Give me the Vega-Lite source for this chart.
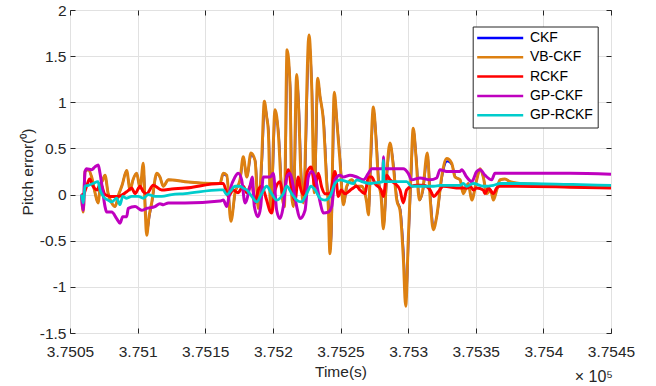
{
"$schema":"https://vega.github.io/schema/vega-lite/v6.json",
"width":541,"height":323,
"autosize":{"type":"none"},
"padding":{"left":70,"top":10,"right":45,"bottom":53},
"background":"white",
"data":{"values":[
{"s":"CKF","t":375058.5,"v":0.0},{"s":"CKF","t":375059.8,"v":-0.19},{"s":"CKF","t":375061.1,"v":0.25},{"s":"CKF","t":375063.5,"v":0.27},{"s":"CKF","t":375066.0,"v":0.19},{"s":"CKF","t":375068.5,"v":0.02},{"s":"CKF","t":375070.7,"v":-0.09},{"s":"CKF","t":375072.5,"v":0.10},{"s":"CKF","t":375074.0,"v":0.15},{"s":"CKF","t":375075.9,"v":0.21},{"s":"CKF","t":375078.1,"v":0.02},{"s":"CKF","t":375080.8,"v":-0.09},{"s":"CKF","t":375083.3,"v":-0.13},{"s":"CKF","t":375086.0,"v":0.0},{"s":"CKF","t":375088.5,"v":0.10},{"s":"CKF","t":375091.9,"v":0.26},{"s":"CKF","t":375094.4,"v":0.05},{"s":"CKF","t":375096.6,"v":0.16},{"s":"CKF","t":375099.3,"v":0.23},{"s":"CKF","t":375101.8,"v":0.07},{"s":"CKF","t":375104.4,"v":0.31},{"s":"CKF","t":375105.8,"v":-0.15},{"s":"CKF","t":375107.0,"v":-0.40},{"s":"CKF","t":375108.7,"v":-0.24},{"s":"CKF","t":375110.6,"v":-0.09},{"s":"CKF","t":375114.3,"v":0.22},{"s":"CKF","t":375116.5,"v":0.19},{"s":"CKF","t":375119.0,"v":0.09},{"s":"CKF","t":375122.7,"v":0.16},{"s":"CKF","t":375135.0,"v":0.14},{"s":"CKF","t":375160.9,"v":0.12},{"s":"CKF","t":375163.3,"v":0.22},{"s":"CKF","t":375165.9,"v":0.20},{"s":"CKF","t":375169.2,"v":-0.27},{"s":"CKF","t":375172.2,"v":0.02},{"s":"CKF","t":375175.9,"v":0.16},{"s":"CKF","t":375178.3,"v":0.39},{"s":"CKF","t":375180.9,"v":0.19},{"s":"CKF","t":375184.0,"v":0.43},{"s":"CKF","t":375187.1,"v":0.36},{"s":"CKF","t":375189.5,"v":-0.13},{"s":"CKF","t":375192.0,"v":0.36},{"s":"CKF","t":375194.0,"v":0.97},{"s":"CKF","t":375195.8,"v":0.82},{"s":"CKF","t":375197.0,"v":0.66},{"s":"CKF","t":375198.7,"v":-0.16},{"s":"CKF","t":375201.9,"v":0.89},{"s":"CKF","t":375204.4,"v":0.64},{"s":"CKF","t":375206.8,"v":0.02},{"s":"CKF","t":375208.8,"v":-0.12},{"s":"CKF","t":375210.8,"v":1.52},{"s":"CKF","t":375213.0,"v":1.14},{"s":"CKF","t":375214.2,"v":0.0},{"s":"CKF","t":375215.4,"v":-0.12},{"s":"CKF","t":375217.9,"v":1.26},{"s":"CKF","t":375219.2,"v":0.98},{"s":"CKF","t":375221.1,"v":0.19},{"s":"CKF","t":375222.8,"v":-0.08},{"s":"CKF","t":375227.0,"v":1.68},{"s":"CKF","t":375229.0,"v":1.13},{"s":"CKF","t":375230.9,"v":0.02},{"s":"CKF","t":375233.4,"v":1.22},{"s":"CKF","t":375235.3,"v":1.02},{"s":"CKF","t":375237.7,"v":0.78},{"s":"CKF","t":375240.1,"v":0.13},{"s":"CKF","t":375241.3,"v":-0.12},{"s":"CKF","t":375242.5,"v":-0.60},{"s":"CKF","t":375243.3,"v":-0.44},{"s":"CKF","t":375245.7,"v":1.07},{"s":"CKF","t":375247.5,"v":0.78},{"s":"CKF","t":375249.9,"v":0.36},{"s":"CKF","t":375252.4,"v":-0.10},{"s":"CKF","t":375254.9,"v":0.09},{"s":"CKF","t":375258.5,"v":0.16},{"s":"CKF","t":375262.0,"v":0.09},{"s":"CKF","t":375265.7,"v":0.09},{"s":"CKF","t":375269.6,"v":-0.09},{"s":"CKF","t":375270.9,"v":-0.21},{"s":"CKF","t":375272.6,"v":0.40},{"s":"CKF","t":375274.6,"v":0.92},{"s":"CKF","t":375276.6,"v":0.58},{"s":"CKF","t":375278.3,"v":0.16},{"s":"CKF","t":375280.3,"v":-0.02},{"s":"CKF","t":375282.0,"v":-0.35},{"s":"CKF","t":375284.5,"v":0.23},{"s":"CKF","t":375286.9,"v":0.54},{"s":"CKF","t":375289.4,"v":0.30},{"s":"CKF","t":375291.9,"v":-0.06},{"s":"CKF","t":375294.3,"v":-0.16},{"s":"CKF","t":375296.7,"v":-0.64},{"s":"CKF","t":375298.5,"v":-1.16},{"s":"CKF","t":375300.4,"v":-0.47},{"s":"CKF","t":375302.2,"v":0.16},{"s":"CKF","t":375304.1,"v":0.70},{"s":"CKF","t":375306.1,"v":0.40},{"s":"CKF","t":375308.6,"v":-0.06},{"s":"CKF","t":375311.1,"v":0.05},{"s":"CKF","t":375314.5,"v":0.43},{"s":"CKF","t":375316.5,"v":-0.02},{"s":"CKF","t":375319.0,"v":-0.34},{"s":"CKF","t":375321.4,"v":-0.22},{"s":"CKF","t":375325.1,"v":0.19},{"s":"CKF","t":375328.8,"v":0.36},{"s":"CKF","t":375332.5,"v":0.32},{"s":"CKF","t":375335.0,"v":0.19},{"s":"CKF","t":375338.4,"v":0.16},{"s":"CKF","t":375340.8,"v":0.02},{"s":"CKF","t":375344.5,"v":0.12},{"s":"CKF","t":375347.0,"v":-0.05},{"s":"CKF","t":375350.7,"v":0.16},{"s":"CKF","t":375353.2,"v":0.27},{"s":"CKF","t":375355.6,"v":0.19},{"s":"CKF","t":375358.1,"v":0.02},{"s":"CKF","t":375361.0,"v":0.05},{"s":"CKF","t":375363.0,"v":-0.05},{"s":"CKF","t":375365.5,"v":0.05},{"s":"CKF","t":375367.9,"v":0.16},{"s":"CKF","t":375371.6,"v":0.17},{"s":"CKF","t":375375.3,"v":0.14},{"s":"CKF","t":375382.7,"v":0.12},{"s":"CKF","t":375419.7,"v":0.10},{"s":"CKF","t":375450.0,"v":0.09},

{"s":"VB-CKF","t":375058.5,"v":0.0},{"s":"VB-CKF","t":375059.8,"v":-0.19},{"s":"VB-CKF","t":375061.1,"v":0.25},{"s":"VB-CKF","t":375063.5,"v":0.27},{"s":"VB-CKF","t":375066.0,"v":0.19},{"s":"VB-CKF","t":375068.5,"v":0.02},{"s":"VB-CKF","t":375070.7,"v":-0.09},{"s":"VB-CKF","t":375072.5,"v":0.10},{"s":"VB-CKF","t":375074.0,"v":0.15},{"s":"VB-CKF","t":375075.9,"v":0.21},{"s":"VB-CKF","t":375078.1,"v":0.02},{"s":"VB-CKF","t":375080.8,"v":-0.09},{"s":"VB-CKF","t":375083.3,"v":-0.13},{"s":"VB-CKF","t":375086.0,"v":0.0},{"s":"VB-CKF","t":375088.5,"v":0.10},{"s":"VB-CKF","t":375091.9,"v":0.26},{"s":"VB-CKF","t":375094.4,"v":0.05},{"s":"VB-CKF","t":375096.6,"v":0.16},{"s":"VB-CKF","t":375099.3,"v":0.23},{"s":"VB-CKF","t":375101.8,"v":0.07},{"s":"VB-CKF","t":375104.2,"v":0.34},{"s":"VB-CKF","t":375105.5,"v":-0.13},{"s":"VB-CKF","t":375106.7,"v":-0.44},{"s":"VB-CKF","t":375108.4,"v":-0.24},{"s":"VB-CKF","t":375110.4,"v":-0.09},{"s":"VB-CKF","t":375114.1,"v":0.23},{"s":"VB-CKF","t":375116.5,"v":0.19},{"s":"VB-CKF","t":375119.0,"v":0.09},{"s":"VB-CKF","t":375122.7,"v":0.16},{"s":"VB-CKF","t":375135.0,"v":0.14},{"s":"VB-CKF","t":375160.9,"v":0.12},{"s":"VB-CKF","t":375163.3,"v":0.23},{"s":"VB-CKF","t":375165.9,"v":0.21},{"s":"VB-CKF","t":375169.0,"v":-0.29},{"s":"VB-CKF","t":375172.0,"v":0.02},{"s":"VB-CKF","t":375175.7,"v":0.16},{"s":"VB-CKF","t":375178.1,"v":0.41},{"s":"VB-CKF","t":375180.7,"v":0.19},{"s":"VB-CKF","t":375183.8,"v":0.45},{"s":"VB-CKF","t":375186.8,"v":0.37},{"s":"VB-CKF","t":375189.2,"v":-0.15},{"s":"VB-CKF","t":375191.7,"v":0.37},{"s":"VB-CKF","t":375193.7,"v":1.01},{"s":"VB-CKF","t":375195.4,"v":0.84},{"s":"VB-CKF","t":375196.6,"v":0.70},{"s":"VB-CKF","t":375198.4,"v":-0.18},{"s":"VB-CKF","t":375201.6,"v":0.92},{"s":"VB-CKF","t":375204.0,"v":0.67},{"s":"VB-CKF","t":375206.5,"v":0.02},{"s":"VB-CKF","t":375208.5,"v":-0.13},{"s":"VB-CKF","t":375210.5,"v":1.57},{"s":"VB-CKF","t":375212.7,"v":1.17},{"s":"VB-CKF","t":375213.9,"v":0.0},{"s":"VB-CKF","t":375215.1,"v":-0.13},{"s":"VB-CKF","t":375217.6,"v":1.30},{"s":"VB-CKF","t":375218.8,"v":1.02},{"s":"VB-CKF","t":375220.8,"v":0.19},{"s":"VB-CKF","t":375222.5,"v":-0.09},{"s":"VB-CKF","t":375226.7,"v":1.73},{"s":"VB-CKF","t":375228.7,"v":1.17},{"s":"VB-CKF","t":375230.6,"v":0.02},{"s":"VB-CKF","t":375233.1,"v":1.26},{"s":"VB-CKF","t":375234.9,"v":1.06},{"s":"VB-CKF","t":375237.3,"v":0.81},{"s":"VB-CKF","t":375239.8,"v":0.13},{"s":"VB-CKF","t":375241.0,"v":-0.13},{"s":"VB-CKF","t":375242.2,"v":-0.64},{"s":"VB-CKF","t":375243.0,"v":-0.46},{"s":"VB-CKF","t":375245.4,"v":1.11},{"s":"VB-CKF","t":375247.2,"v":0.81},{"s":"VB-CKF","t":375249.6,"v":0.37},{"s":"VB-CKF","t":375252.1,"v":-0.11},{"s":"VB-CKF","t":375254.6,"v":0.09},{"s":"VB-CKF","t":375258.3,"v":0.16},{"s":"VB-CKF","t":375262.0,"v":0.09},{"s":"VB-CKF","t":375265.7,"v":0.09},{"s":"VB-CKF","t":375269.4,"v":-0.09},{"s":"VB-CKF","t":375270.6,"v":-0.22},{"s":"VB-CKF","t":375272.3,"v":0.41},{"s":"VB-CKF","t":375274.3,"v":0.95},{"s":"VB-CKF","t":375276.3,"v":0.59},{"s":"VB-CKF","t":375278.0,"v":0.16},{"s":"VB-CKF","t":375280.0,"v":-0.02},{"s":"VB-CKF","t":375281.7,"v":-0.37},{"s":"VB-CKF","t":375284.2,"v":0.23},{"s":"VB-CKF","t":375286.6,"v":0.56},{"s":"VB-CKF","t":375289.1,"v":0.30},{"s":"VB-CKF","t":375291.6,"v":-0.06},{"s":"VB-CKF","t":375294.0,"v":-0.17},{"s":"VB-CKF","t":375296.4,"v":-0.67},{"s":"VB-CKF","t":375298.2,"v":-1.21},{"s":"VB-CKF","t":375300.1,"v":-0.49},{"s":"VB-CKF","t":375301.9,"v":0.16},{"s":"VB-CKF","t":375303.8,"v":0.72},{"s":"VB-CKF","t":375305.8,"v":0.41},{"s":"VB-CKF","t":375308.3,"v":-0.06},{"s":"VB-CKF","t":375310.8,"v":0.05},{"s":"VB-CKF","t":375314.2,"v":0.45},{"s":"VB-CKF","t":375316.2,"v":-0.02},{"s":"VB-CKF","t":375318.6,"v":-0.38},{"s":"VB-CKF","t":375321.1,"v":-0.24},{"s":"VB-CKF","t":375324.8,"v":0.19},{"s":"VB-CKF","t":375328.5,"v":0.39},{"s":"VB-CKF","t":375332.2,"v":0.34},{"s":"VB-CKF","t":375334.7,"v":0.19},{"s":"VB-CKF","t":375338.4,"v":0.16},{"s":"VB-CKF","t":375340.8,"v":0.01},{"s":"VB-CKF","t":375344.5,"v":0.12},{"s":"VB-CKF","t":375347.0,"v":-0.06},{"s":"VB-CKF","t":375350.7,"v":0.16},{"s":"VB-CKF","t":375353.2,"v":0.28},{"s":"VB-CKF","t":375355.6,"v":0.19},{"s":"VB-CKF","t":375358.1,"v":0.01},{"s":"VB-CKF","t":375361.0,"v":0.05},{"s":"VB-CKF","t":375363.0,"v":-0.06},{"s":"VB-CKF","t":375365.5,"v":0.05},{"s":"VB-CKF","t":375367.9,"v":0.16},{"s":"VB-CKF","t":375371.6,"v":0.17},{"s":"VB-CKF","t":375375.3,"v":0.14},{"s":"VB-CKF","t":375382.7,"v":0.12},{"s":"VB-CKF","t":375419.7,"v":0.10},{"s":"VB-CKF","t":375450.0,"v":0.09},

{"s":"RCKF","t":375058.5,"v":0.0},{"s":"RCKF","t":375059.8,"v":0.0},{"s":"RCKF","t":375062.3,"v":0.09},{"s":"RCKF","t":375064.5,"v":0.17},{"s":"RCKF","t":375067.0,"v":0.09},{"s":"RCKF","t":375070.0,"v":0.05},{"s":"RCKF","t":375072.5,"v":0.12},{"s":"RCKF","t":375075.9,"v":0.0},{"s":"RCKF","t":375080.0,"v":-0.02},{"s":"RCKF","t":375085.5,"v":-0.02},{"s":"RCKF","t":375091.9,"v":0.03},{"s":"RCKF","t":375095.6,"v":0.07},{"s":"RCKF","t":375098.1,"v":0.01},{"s":"RCKF","t":375101.8,"v":0.09},{"s":"RCKF","t":375104.2,"v":0.03},{"s":"RCKF","t":375106.7,"v":0.01},{"s":"RCKF","t":375111.6,"v":0.10},{"s":"RCKF","t":375117.8,"v":0.05},{"s":"RCKF","t":375125.2,"v":0.06},{"s":"RCKF","t":375135.0,"v":0.07},{"s":"RCKF","t":375160.9,"v":0.12},{"s":"RCKF","t":375163.3,"v":0.12},{"s":"RCKF","t":375167.0,"v":-0.02},{"s":"RCKF","t":375170.7,"v":0.05},{"s":"RCKF","t":375174.2,"v":0.02},{"s":"RCKF","t":375178.1,"v":0.09},{"s":"RCKF","t":375180.7,"v":0.02},{"s":"RCKF","t":375184.4,"v":0.12},{"s":"RCKF","t":375186.8,"v":-0.09},{"s":"RCKF","t":375189.2,"v":0.05},{"s":"RCKF","t":375191.7,"v":0.09},{"s":"RCKF","t":375195.4,"v":-0.06},{"s":"RCKF","t":375197.9,"v":-0.18},{"s":"RCKF","t":375199.1,"v":-0.20},{"s":"RCKF","t":375201.6,"v":0.05},{"s":"RCKF","t":375205.3,"v":0.14},{"s":"RCKF","t":375207.7,"v":-0.02},{"s":"RCKF","t":375211.4,"v":0.27},{"s":"RCKF","t":375213.9,"v":0.05},{"s":"RCKF","t":375216.4,"v":-0.06},{"s":"RCKF","t":375218.8,"v":0.19},{"s":"RCKF","t":375220.1,"v":0.09},{"s":"RCKF","t":375222.5,"v":0.0},{"s":"RCKF","t":375225.5,"v":0.25},{"s":"RCKF","t":375228.2,"v":0.30},{"s":"RCKF","t":375231.2,"v":0.09},{"s":"RCKF","t":375233.6,"v":0.23},{"s":"RCKF","t":375236.1,"v":0.08},{"s":"RCKF","t":375238.5,"v":0.01},{"s":"RCKF","t":375242.2,"v":0.01},{"s":"RCKF","t":375245.9,"v":0.25},{"s":"RCKF","t":375248.4,"v":-0.02},{"s":"RCKF","t":375250.5,"v":0.05},{"s":"RCKF","t":375253.3,"v":0.01},{"s":"RCKF","t":375258.3,"v":0.06},{"s":"RCKF","t":375262.0,"v":0.09},{"s":"RCKF","t":375264.4,"v":0.05},{"s":"RCKF","t":375268.1,"v":0.01},{"s":"RCKF","t":375270.6,"v":0.19},{"s":"RCKF","t":375273.1,"v":0.19},{"s":"RCKF","t":375275.5,"v":0.12},{"s":"RCKF","t":375280.0,"v":0.05},{"s":"RCKF","t":375281.7,"v":-0.02},{"s":"RCKF","t":375284.2,"v":0.21},{"s":"RCKF","t":375286.6,"v":0.16},{"s":"RCKF","t":375290.3,"v":0.12},{"s":"RCKF","t":375294.0,"v":0.05},{"s":"RCKF","t":375296.4,"v":-0.09},{"s":"RCKF","t":375298.9,"v":0.05},{"s":"RCKF","t":375302.6,"v":0.09},{"s":"RCKF","t":375306.4,"v":0.10},{"s":"RCKF","t":375311.2,"v":0.10},{"s":"RCKF","t":375316.2,"v":0.05},{"s":"RCKF","t":375319.1,"v":-0.02},{"s":"RCKF","t":375322.3,"v":0.03},{"s":"RCKF","t":375326.0,"v":0.09},{"s":"RCKF","t":375338.4,"v":0.07},{"s":"RCKF","t":375343.3,"v":0.07},{"s":"RCKF","t":375346.0,"v":0.09},{"s":"RCKF","t":375348.2,"v":0.05},{"s":"RCKF","t":375350.7,"v":0.07},{"s":"RCKF","t":375355.6,"v":0.05},{"s":"RCKF","t":375356.8,"v":0.01},{"s":"RCKF","t":375359.3,"v":0.07},{"s":"RCKF","t":375363.0,"v":0.01},{"s":"RCKF","t":375365.5,"v":0.07},{"s":"RCKF","t":375367.9,"v":0.09},{"s":"RCKF","t":375380.3,"v":0.09},{"s":"RCKF","t":375419.7,"v":0.08},{"s":"RCKF","t":375450.0,"v":0.07},

{"s":"GP-CKF","t":375058.5,"v":0.0},{"s":"GP-CKF","t":375059.8,"v":-0.17},{"s":"GP-CKF","t":375061.1,"v":0.25},{"s":"GP-CKF","t":375062.3,"v":0.28},{"s":"GP-CKF","t":375066.0,"v":0.27},{"s":"GP-CKF","t":375068.5,"v":0.30},{"s":"GP-CKF","t":375070.9,"v":0.32},{"s":"GP-CKF","t":375072.2,"v":0.23},{"s":"GP-CKF","t":375073.4,"v":0.12},{"s":"GP-CKF","t":375075.9,"v":-0.13},{"s":"GP-CKF","t":375077.1,"v":-0.19},{"s":"GP-CKF","t":375080.8,"v":-0.19},{"s":"GP-CKF","t":375084.5,"v":-0.26},{"s":"GP-CKF","t":375087.0,"v":-0.31},{"s":"GP-CKF","t":375089.0,"v":-0.24},{"s":"GP-CKF","t":375091.9,"v":-0.24},{"s":"GP-CKF","t":375093.1,"v":-0.15},{"s":"GP-CKF","t":375098.1,"v":-0.13},{"s":"GP-CKF","t":375103.0,"v":-0.17},{"s":"GP-CKF","t":375106.7,"v":-0.15},{"s":"GP-CKF","t":375112.8,"v":-0.13},{"s":"GP-CKF","t":375116.5,"v":-0.10},{"s":"GP-CKF","t":375119.0,"v":-0.11},{"s":"GP-CKF","t":375122.7,"v":-0.09},{"s":"GP-CKF","t":375135.0,"v":-0.09},{"s":"GP-CKF","t":375160.9,"v":-0.07},{"s":"GP-CKF","t":375163.3,"v":-0.06},{"s":"GP-CKF","t":375165.9,"v":-0.13},{"s":"GP-CKF","t":375168.3,"v":0.05},{"s":"GP-CKF","t":375172.0,"v":0.19},{"s":"GP-CKF","t":375174.4,"v":0.23},{"s":"GP-CKF","t":375176.9,"v":0.16},{"s":"GP-CKF","t":375179.4,"v":-0.09},{"s":"GP-CKF","t":375183.1,"v":0.09},{"s":"GP-CKF","t":375184.8,"v":0.19},{"s":"GP-CKF","t":375186.3,"v":-0.13},{"s":"GP-CKF","t":375189.0,"v":-0.24},{"s":"GP-CKF","t":375191.0,"v":-0.13},{"s":"GP-CKF","t":375192.9,"v":0.19},{"s":"GP-CKF","t":375195.4,"v":0.19},{"s":"GP-CKF","t":375197.9,"v":0.19},{"s":"GP-CKF","t":375200.3,"v":0.23},{"s":"GP-CKF","t":375202.8,"v":-0.17},{"s":"GP-CKF","t":375205.3,"v":-0.26},{"s":"GP-CKF","t":375207.7,"v":-0.13},{"s":"GP-CKF","t":375210.3,"v":0.19},{"s":"GP-CKF","t":375212.7,"v":0.23},{"s":"GP-CKF","t":375215.1,"v":0.09},{"s":"GP-CKF","t":375217.6,"v":-0.13},{"s":"GP-CKF","t":375220.1,"v":-0.26},{"s":"GP-CKF","t":375223.8,"v":-0.17},{"s":"GP-CKF","t":375226.2,"v":0.19},{"s":"GP-CKF","t":375228.7,"v":0.25},{"s":"GP-CKF","t":375231.7,"v":0.16},{"s":"GP-CKF","t":375234.9,"v":-0.08},{"s":"GP-CKF","t":375237.3,"v":-0.20},{"s":"GP-CKF","t":375241.0,"v":-0.19},{"s":"GP-CKF","t":375243.5,"v":-0.13},{"s":"GP-CKF","t":375245.9,"v":0.16},{"s":"GP-CKF","t":375249.6,"v":0.21},{"s":"GP-CKF","t":375252.1,"v":0.19},{"s":"GP-CKF","t":375257.0,"v":0.21},{"s":"GP-CKF","t":375262.0,"v":0.19},{"s":"GP-CKF","t":375266.9,"v":0.16},{"s":"GP-CKF","t":375270.6,"v":0.23},{"s":"GP-CKF","t":375273.1,"v":0.28},{"s":"GP-CKF","t":375277.0,"v":0.28},{"s":"GP-CKF","t":375281.4,"v":0.28},{"s":"GP-CKF","t":375281.8,"v":0.41},{"s":"GP-CKF","t":375282.2,"v":0.28},{"s":"GP-CKF","t":375286.6,"v":0.28},{"s":"GP-CKF","t":375296.4,"v":0.28},{"s":"GP-CKF","t":375300.1,"v":0.23},{"s":"GP-CKF","t":375302.6,"v":0.16},{"s":"GP-CKF","t":375308.8,"v":0.18},{"s":"GP-CKF","t":375316.2,"v":0.16},{"s":"GP-CKF","t":375321.1,"v":0.18},{"s":"GP-CKF","t":375323.6,"v":0.27},{"s":"GP-CKF","t":375328.5,"v":0.25},{"s":"GP-CKF","t":375333.5,"v":0.25},{"s":"GP-CKF","t":375338.4,"v":0.25},{"s":"GP-CKF","t":375339.6,"v":0.27},{"s":"GP-CKF","t":375343.3,"v":0.19},{"s":"GP-CKF","t":375347.0,"v":0.14},{"s":"GP-CKF","t":375350.7,"v":0.25},{"s":"GP-CKF","t":375353.2,"v":0.27},{"s":"GP-CKF","t":375356.8,"v":0.21},{"s":"GP-CKF","t":375361.8,"v":0.16},{"s":"GP-CKF","t":375364.2,"v":0.23},{"s":"GP-CKF","t":375367.9,"v":0.23},{"s":"GP-CKF","t":375419.7,"v":0.23},{"s":"GP-CKF","t":375450.0,"v":0.22},

{"s":"GP-RCKF","t":375058.5,"v":0.0},{"s":"GP-RCKF","t":375059.8,"v":-0.09},{"s":"GP-RCKF","t":375061.1,"v":0.09},{"s":"GP-RCKF","t":375063.5,"v":0.10},{"s":"GP-RCKF","t":375067.0,"v":0.12},{"s":"GP-RCKF","t":375070.7,"v":0.14},{"s":"GP-RCKF","t":375072.2,"v":0.05},{"s":"GP-RCKF","t":375074.6,"v":-0.02},{"s":"GP-RCKF","t":375078.1,"v":-0.06},{"s":"GP-RCKF","t":375080.8,"v":-0.08},{"s":"GP-RCKF","t":375084.5,"v":-0.04},{"s":"GP-RCKF","t":375087.0,"v":-0.11},{"s":"GP-RCKF","t":375089.0,"v":-0.02},{"s":"GP-RCKF","t":375091.9,"v":-0.04},{"s":"GP-RCKF","t":375095.6,"v":-0.02},{"s":"GP-RCKF","t":375100.5,"v":-0.02},{"s":"GP-RCKF","t":375104.2,"v":-0.04},{"s":"GP-RCKF","t":375107.9,"v":0.0},{"s":"GP-RCKF","t":375112.8,"v":-0.02},{"s":"GP-RCKF","t":375117.8,"v":-0.02},{"s":"GP-RCKF","t":375125.2,"v":0.0},{"s":"GP-RCKF","t":375135.0,"v":0.01},{"s":"GP-RCKF","t":375160.9,"v":0.05},{"s":"GP-RCKF","t":375163.3,"v":0.05},{"s":"GP-RCKF","t":375165.9,"v":0.0},{"s":"GP-RCKF","t":375168.3,"v":0.03},{"s":"GP-RCKF","t":375172.0,"v":0.09},{"s":"GP-RCKF","t":375175.7,"v":0.09},{"s":"GP-RCKF","t":375178.1,"v":0.07},{"s":"GP-RCKF","t":375180.7,"v":0.05},{"s":"GP-RCKF","t":375184.4,"v":-0.02},{"s":"GP-RCKF","t":375188.0,"v":-0.08},{"s":"GP-RCKF","t":375191.7,"v":0.01},{"s":"GP-RCKF","t":375195.4,"v":0.09},{"s":"GP-RCKF","t":375199.1,"v":0.01},{"s":"GP-RCKF","t":375202.8,"v":-0.06},{"s":"GP-RCKF","t":375207.7,"v":0.01},{"s":"GP-RCKF","t":375210.3,"v":0.09},{"s":"GP-RCKF","t":375213.9,"v":0.01},{"s":"GP-RCKF","t":375217.6,"v":-0.06},{"s":"GP-RCKF","t":375221.0,"v":-0.08},{"s":"GP-RCKF","t":375225.0,"v":0.01},{"s":"GP-RCKF","t":375228.2,"v":0.09},{"s":"GP-RCKF","t":375231.2,"v":0.05},{"s":"GP-RCKF","t":375234.9,"v":-0.04},{"s":"GP-RCKF","t":375238.5,"v":-0.06},{"s":"GP-RCKF","t":375242.2,"v":-0.02},{"s":"GP-RCKF","t":375245.9,"v":0.12},{"s":"GP-RCKF","t":375249.6,"v":0.16},{"s":"GP-RCKF","t":375254.6,"v":0.14},{"s":"GP-RCKF","t":375259.5,"v":0.12},{"s":"GP-RCKF","t":375262.0,"v":0.16},{"s":"GP-RCKF","t":375265.7,"v":0.14},{"s":"GP-RCKF","t":375271.8,"v":0.12},{"s":"GP-RCKF","t":375276.8,"v":0.13},{"s":"GP-RCKF","t":375281.2,"v":0.14},{"s":"GP-RCKF","t":375281.7,"v":0.37},{"s":"GP-RCKF","t":375282.2,"v":0.14},{"s":"GP-RCKF","t":375289.1,"v":0.14},{"s":"GP-RCKF","t":375294.0,"v":0.14},{"s":"GP-RCKF","t":375298.9,"v":0.14},{"s":"GP-RCKF","t":375302.6,"v":0.09},{"s":"GP-RCKF","t":375311.2,"v":0.09},{"s":"GP-RCKF","t":375319.1,"v":0.09},{"s":"GP-RCKF","t":375323.6,"v":0.10},{"s":"GP-RCKF","t":375338.4,"v":0.10},{"s":"GP-RCKF","t":375340.8,"v":0.12},{"s":"GP-RCKF","t":375343.3,"v":0.09},{"s":"GP-RCKF","t":375348.2,"v":0.12},{"s":"GP-RCKF","t":375355.6,"v":0.09},{"s":"GP-RCKF","t":375363.0,"v":0.10},{"s":"GP-RCKF","t":375367.9,"v":0.12},{"s":"GP-RCKF","t":375380.3,"v":0.12},{"s":"GP-RCKF","t":375419.7,"v":0.11},{"s":"GP-RCKF","t":375450.0,"v":0.10}
]},
"resolve":{"axis":{"x":"independent","y":"independent"}},
"layer":[
{"transform":[{"filter":"datum.s === 'CKF'"}],
 "mark":{"type":"line","strokeWidth":2,"interpolate":"monotone"},
 "encoding":{
  "x":{"field":"t","type":"quantitative","scale":{"domain":[375050,375450],"nice":false,"zero":false},
   "axis":{"orient":"bottom","values":[375050,375100,375150,375200,375250,375300,375350,375400,375450],"labelExpr":"format(datum.value/100000,'.5~g')","grid":true,"ticks":false,"title":"Time(s)","labelPadding":11,"titlePadding":5,"labelFlush":false,"labelOverlap":false}},
  "y":{"field":"v","type":"quantitative","scale":{"domain":[-1.5,2],"nice":false,"zero":false},
   "axis":{"orient":"left","values":[-1.5,-1,-0.5,0,0.5,1,1.5,2],"labelExpr":"datum.value < 0 ? '-' + format(-datum.value,'~g') : format(datum.value,'~g')","grid":true,"ticks":false,"title":"Pitch error(⁰)","labelPadding":4,"titlePadding":4}},
  "color":{"field":"s","type":"nominal","scale":{"domain":["CKF","VB-CKF","RCKF","GP-CKF","GP-RCKF"],"range":["#0000FF","#DD8011","#FF0000","#BF00BF","#00CCCC"]},
   "legend":{"orient":"none","legendX":402.7,"legendY":16.5,"title":null,"strokeColor":"#262626","fillColor":"white","padding":4.5,"symbolType":"M-1.4,0L7.8,0","symbolSize":100,"symbolStrokeWidth":2.5,"labelOffset":38.7,"rowPadding":5.3,"labelFontSize":14,"labelFont":"Liberation Sans","labelColor":"black"}}
 }},
{"transform":[{"filter":"datum.s === 'VB-CKF'"}],
 "mark":{"type":"line","strokeWidth":3,"interpolate":"monotone"},
 "encoding":{"x":{"field":"t","type":"quantitative","axis":null},"y":{"field":"v","type":"quantitative","axis":null},"color":{"field":"s","type":"nominal"}}},
{"transform":[{"filter":"datum.s === 'RCKF'"}],
 "mark":{"type":"line","strokeWidth":3,"interpolate":"monotone"},
 "encoding":{
  "x":{"field":"t","type":"quantitative","axis":{"orient":"bottom","offset":-5,"values":[375050,375100,375150,375200,375250,375300,375350,375400,375450],"labels":false,"grid":false,"title":null,"ticks":true,"tickSize":5}},
  "y":{"field":"v","type":"quantitative","axis":{"orient":"left","offset":-5,"values":[-1.5,-1,-0.5,0,0.5,1,1.5,2],"labels":false,"grid":false,"title":null,"ticks":true,"tickSize":5}},
  "color":{"field":"s","type":"nominal"}}},
{"transform":[{"filter":"datum.s === 'GP-CKF'"}],
 "mark":{"type":"line","strokeWidth":3,"interpolate":"monotone"},
 "encoding":{"x":{"field":"t","type":"quantitative","axis":null},"y":{"field":"v","type":"quantitative","axis":null},"color":{"field":"s","type":"nominal"}}},
{"transform":[{"filter":"datum.s === 'GP-RCKF'"}],
 "mark":{"type":"line","strokeWidth":2.8,"interpolate":"monotone"},
 "encoding":{
  "x":{"field":"t","type":"quantitative","axis":{"orient":"top","offset":-5,"values":[375050,375100,375150,375200,375250,375300,375350,375400,375450],"labels":false,"grid":false,"title":null,"ticks":true,"tickSize":5}},
  "y":{"field":"v","type":"quantitative","axis":{"orient":"right","offset":-5,"values":[-1.5,-1,-0.5,0,0.5,1,1.5,2],"labels":false,"grid":false,"title":null,"ticks":true,"tickSize":5}},
  "color":{"field":"s","type":"nominal"}}},
{"data":{"values":[{"txt":"× 10⁵"}]},
 "mark":{"type":"text","align":"right","baseline":"alphabetic","dx":2,"dy":49,"fontSize":16,"font":"Liberation Sans","color":"#262626"},
 "encoding":{"x":{"datum":375450,"type":"quantitative","axis":null},"y":{"datum":-1.5,"type":"quantitative","axis":null},"text":{"field":"txt"}}}
],
"config":{
 "font":"Liberation Sans",
 "view":{"stroke":"#262626","strokeWidth":1},
 "axis":{"labelFont":"Liberation Sans","labelFontSize":15.5,"labelColor":"#262626","titleFont":"Liberation Sans","titleFontSize":15.5,"titleFontWeight":"normal","titleColor":"#262626","tickColor":"#262626","tickWidth":1,"domain":false,"gridColor":"#E1E1E1","gridWidth":1},
 "legend":{"strokeWidth":1}
}
}
